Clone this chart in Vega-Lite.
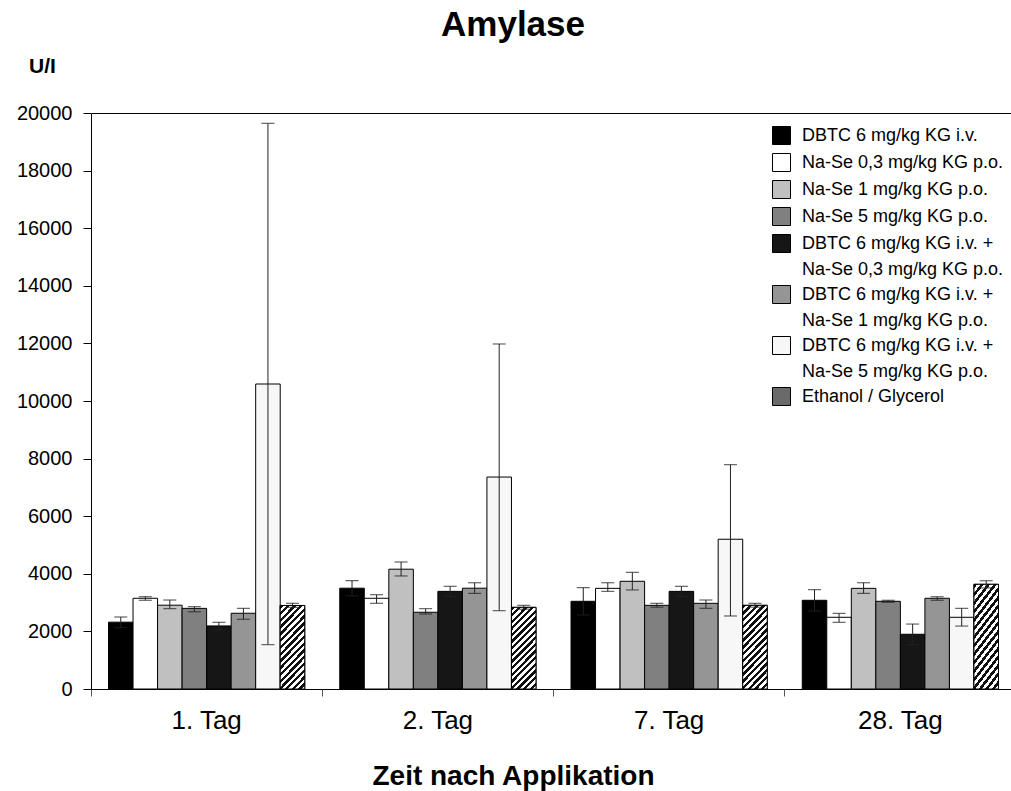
{
  "$schema": "https://vega.github.io/schema/vega-lite/v6.json",
  "width": 920,
  "height": 576,
  "autosize": {"type": "none"},
  "padding": {"left": 91, "top": 113, "right": 0, "bottom": 102},
  "background": "white",
  "config": {"font": "Liberation Sans", "view": {"stroke": null}},
  "title": {"text": "Amylase", "font": "Liberation Sans", "fontSize": 35, "fontWeight": "bold", "color": "black", "anchor": "middle", "frame": "group", "dx": -38, "offset": -16, "baseline": "alphabetic"},
  "data": {"values": [
    {"tag": "1. Tag", "g": "DBTC 6 mg/kg KG i.v.", "mean": 2320, "lo": 2130, "hi": 2500},
    {"tag": "1. Tag", "g": "Na-Se 0,3 mg/kg KG p.o.", "mean": 3150, "lo": 3080, "hi": 3205},
    {"tag": "1. Tag", "g": "Na-Se 1 mg/kg KG p.o.", "mean": 2910, "lo": 2790, "hi": 3090},
    {"tag": "1. Tag", "g": "Na-Se 5 mg/kg KG p.o.", "mean": 2800, "lo": 2680, "hi": 2860},
    {"tag": "1. Tag", "g": "DBTC 6 mg/kg KG i.v. +|Na-Se 0,3 mg/kg KG p.o.", "mean": 2190, "lo": 2060, "hi": 2315},
    {"tag": "1. Tag", "g": "DBTC 6 mg/kg KG i.v. +|Na-Se 1 mg/kg KG p.o.", "mean": 2630, "lo": 2420, "hi": 2800},
    {"tag": "1. Tag", "g": "DBTC 6 mg/kg KG i.v. +|Na-Se 5 mg/kg KG p.o.", "mean": 10590, "lo": 1540, "hi": 19640},
    {"tag": "1. Tag", "g": "Ethanol / Glycerol", "mean": 2900, "lo": 2835, "hi": 2975},
    {"tag": "2. Tag", "g": "DBTC 6 mg/kg KG i.v.", "mean": 3500, "lo": 3235, "hi": 3760},
    {"tag": "2. Tag", "g": "Na-Se 0,3 mg/kg KG p.o.", "mean": 3150, "lo": 2975, "hi": 3275},
    {"tag": "2. Tag", "g": "Na-Se 1 mg/kg KG p.o.", "mean": 4160, "lo": 3925, "hi": 4410},
    {"tag": "2. Tag", "g": "Na-Se 5 mg/kg KG p.o.", "mean": 2665, "lo": 2605, "hi": 2790},
    {"tag": "2. Tag", "g": "DBTC 6 mg/kg KG i.v. +|Na-Se 0,3 mg/kg KG p.o.", "mean": 3390, "lo": 3215, "hi": 3565},
    {"tag": "2. Tag", "g": "DBTC 6 mg/kg KG i.v. +|Na-Se 1 mg/kg KG p.o.", "mean": 3500, "lo": 3320, "hi": 3690},
    {"tag": "2. Tag", "g": "DBTC 6 mg/kg KG i.v. +|Na-Se 5 mg/kg KG p.o.", "mean": 7360, "lo": 2720, "hi": 11980},
    {"tag": "2. Tag", "g": "Ethanol / Glycerol", "mean": 2835, "lo": 2770, "hi": 2905},
    {"tag": "7. Tag", "g": "DBTC 6 mg/kg KG i.v.", "mean": 3045, "lo": 2570, "hi": 3520},
    {"tag": "7. Tag", "g": "Na-Se 0,3 mg/kg KG p.o.", "mean": 3495, "lo": 3390, "hi": 3690},
    {"tag": "7. Tag", "g": "Na-Se 1 mg/kg KG p.o.", "mean": 3740, "lo": 3440, "hi": 4050},
    {"tag": "7. Tag", "g": "Na-Se 5 mg/kg KG p.o.", "mean": 2905, "lo": 2840, "hi": 2975},
    {"tag": "7. Tag", "g": "DBTC 6 mg/kg KG i.v. +|Na-Se 0,3 mg/kg KG p.o.", "mean": 3390, "lo": 3215, "hi": 3565},
    {"tag": "7. Tag", "g": "DBTC 6 mg/kg KG i.v. +|Na-Se 1 mg/kg KG p.o.", "mean": 2975, "lo": 2800, "hi": 3090},
    {"tag": "7. Tag", "g": "DBTC 6 mg/kg KG i.v. +|Na-Se 5 mg/kg KG p.o.", "mean": 5200, "lo": 2535, "hi": 7790},
    {"tag": "7. Tag", "g": "Ethanol / Glycerol", "mean": 2905, "lo": 2840, "hi": 2975},
    {"tag": "28. Tag", "g": "DBTC 6 mg/kg KG i.v.", "mean": 3080, "lo": 2710, "hi": 3450},
    {"tag": "28. Tag", "g": "Na-Se 0,3 mg/kg KG p.o.", "mean": 2490, "lo": 2315, "hi": 2625},
    {"tag": "28. Tag", "g": "Na-Se 1 mg/kg KG p.o.", "mean": 3495, "lo": 3320, "hi": 3690},
    {"tag": "28. Tag", "g": "Na-Se 5 mg/kg KG p.o.", "mean": 3045, "lo": 3010, "hi": 3080},
    {"tag": "28. Tag", "g": "DBTC 6 mg/kg KG i.v. +|Na-Se 0,3 mg/kg KG p.o.", "mean": 1900, "lo": 1540, "hi": 2255},
    {"tag": "28. Tag", "g": "DBTC 6 mg/kg KG i.v. +|Na-Se 1 mg/kg KG p.o.", "mean": 3150, "lo": 3080, "hi": 3205},
    {"tag": "28. Tag", "g": "DBTC 6 mg/kg KG i.v. +|Na-Se 5 mg/kg KG p.o.", "mean": 2490, "lo": 2185, "hi": 2800},
    {"tag": "28. Tag", "g": "Ethanol / Glycerol", "mean": 3635, "lo": 3510, "hi": 3760}
  ]},
  "layer": [
    {
      "mark": {"type": "bar", "stroke": "black", "strokeWidth": 1},
      "encoding": {
        "x": {"field": "tag", "type": "nominal",
          "scale": {"domain": ["1. Tag", "2. Tag", "7. Tag", "28. Tag"], "range": [0, 925], "paddingInner": 0, "paddingOuter": 0},
          "axis": {"orient": "bottom", "title": "Zeit nach Applikation", "titleFontSize": 28, "titleFontWeight": "bold", "titleColor": "black", "titleX": 422, "titleY": 95, "titleAlign": "center", "titleBaseline": "alphabetic", "labelFontSize": 26, "labelColor": "black", "labelAngle": 0, "labelPadding": 39, "labelBaseline": "alphabetic", "ticks": false, "tickSize": 0, "domainColor": "black", "domainWidth": 1, "grid": false}},
        "xOffset": {"field": "g", "type": "nominal",
          "scale": {"domain": ["DBTC 6 mg/kg KG i.v.", "Na-Se 0,3 mg/kg KG p.o.", "Na-Se 1 mg/kg KG p.o.", "Na-Se 5 mg/kg KG p.o.", "DBTC 6 mg/kg KG i.v. +|Na-Se 0,3 mg/kg KG p.o.", "DBTC 6 mg/kg KG i.v. +|Na-Se 1 mg/kg KG p.o.", "DBTC 6 mg/kg KG i.v. +|Na-Se 5 mg/kg KG p.o.", "Ethanol / Glycerol"], "paddingInner": 0, "paddingOuter": 0.714}},
        "y": {"field": "mean", "type": "quantitative",
          "scale": {"domain": [0, 20000], "nice": false},
          "axis": {"title": "U/I", "titleAngle": 0, "titleX": -49, "titleY": -41, "titleAlign": "center", "titleBaseline": "alphabetic", "titleFontSize": 21, "titleFontWeight": "bold", "titleColor": "black", "values": [0, 2000, 4000, 6000, 8000, 10000, 12000, 14000, 16000, 18000, 20000], "format": "d", "labelFontSize": 20, "labelColor": "black", "labelPadding": 11, "tickSize": 8, "tickColor": "black", "domainColor": "black", "grid": false}},
        "fill": {"field": "g", "type": "nominal",
          "scale": {"domain": ["DBTC 6 mg/kg KG i.v.", "Na-Se 0,3 mg/kg KG p.o.", "Na-Se 1 mg/kg KG p.o.", "Na-Se 5 mg/kg KG p.o.", "DBTC 6 mg/kg KG i.v. +|Na-Se 0,3 mg/kg KG p.o.", "DBTC 6 mg/kg KG i.v. +|Na-Se 1 mg/kg KG p.o.", "DBTC 6 mg/kg KG i.v. +|Na-Se 5 mg/kg KG p.o.", "Ethanol / Glycerol"],
            "range": ["#000000", "#ffffff", "#c0c0c0", "#808080", "#161616", "#959595", "#f7f7f7", "#6a6a6a"]},
          "legend": {"orient": "none", "legendX": 681, "legendY": 13, "title": null, "padding": 0, "symbolType": "square", "symbolSize": 324, "symbolStrokeColor": "black", "symbolStrokeWidth": 1, "labelFontSize": 18, "labelColor": "black", "labelOffset": 11, "labelLimit": 0, "labelExpr": "split(datum.label, '|')", "rowPadding": 4, "labelBaseline": "top",
            "encode": {
              "labels": {"update": {"dy": {"value": -9}, "lineHeight": {"value": 26}}},
              "symbols": {"update": {"stroke": {"value": "black"}, "strokeWidth": {"value": 1}}}
            }}}
      }
    },
    {
      "transform": [{"filter": "datum.g === 'Ethanol / Glycerol'"}],
      "mark": {"type": "bar", "stroke": "black", "strokeWidth": 1, "fill": {"gradient": "linear", "x1": 0, "y1": 0, "x2": 0.36, "y2": 1.19, "stops": [
        {"offset": 0, "color": "#111111"}, {"offset": 0.03125, "color": "#111111"}, {"offset": 0.03125, "color": "#ffffff"}, {"offset": 0.0625, "color": "#ffffff"},
        {"offset": 0.0625, "color": "#111111"}, {"offset": 0.09375, "color": "#111111"}, {"offset": 0.09375, "color": "#ffffff"}, {"offset": 0.125, "color": "#ffffff"},
        {"offset": 0.125, "color": "#111111"}, {"offset": 0.15625, "color": "#111111"}, {"offset": 0.15625, "color": "#ffffff"}, {"offset": 0.1875, "color": "#ffffff"},
        {"offset": 0.1875, "color": "#111111"}, {"offset": 0.21875, "color": "#111111"}, {"offset": 0.21875, "color": "#ffffff"}, {"offset": 0.25, "color": "#ffffff"},
        {"offset": 0.25, "color": "#111111"}, {"offset": 0.28125, "color": "#111111"}, {"offset": 0.28125, "color": "#ffffff"}, {"offset": 0.3125, "color": "#ffffff"},
        {"offset": 0.3125, "color": "#111111"}, {"offset": 0.34375, "color": "#111111"}, {"offset": 0.34375, "color": "#ffffff"}, {"offset": 0.375, "color": "#ffffff"},
        {"offset": 0.375, "color": "#111111"}, {"offset": 0.40625, "color": "#111111"}, {"offset": 0.40625, "color": "#ffffff"}, {"offset": 0.4375, "color": "#ffffff"},
        {"offset": 0.4375, "color": "#111111"}, {"offset": 0.46875, "color": "#111111"}, {"offset": 0.46875, "color": "#ffffff"}, {"offset": 0.5, "color": "#ffffff"},
        {"offset": 0.5, "color": "#111111"}, {"offset": 0.53125, "color": "#111111"}, {"offset": 0.53125, "color": "#ffffff"}, {"offset": 0.5625, "color": "#ffffff"},
        {"offset": 0.5625, "color": "#111111"}, {"offset": 0.59375, "color": "#111111"}, {"offset": 0.59375, "color": "#ffffff"}, {"offset": 0.625, "color": "#ffffff"},
        {"offset": 0.625, "color": "#111111"}, {"offset": 0.65625, "color": "#111111"}, {"offset": 0.65625, "color": "#ffffff"}, {"offset": 0.6875, "color": "#ffffff"},
        {"offset": 0.6875, "color": "#111111"}, {"offset": 0.71875, "color": "#111111"}, {"offset": 0.71875, "color": "#ffffff"}, {"offset": 0.75, "color": "#ffffff"},
        {"offset": 0.75, "color": "#111111"}, {"offset": 0.78125, "color": "#111111"}, {"offset": 0.78125, "color": "#ffffff"}, {"offset": 0.8125, "color": "#ffffff"},
        {"offset": 0.8125, "color": "#111111"}, {"offset": 0.84375, "color": "#111111"}, {"offset": 0.84375, "color": "#ffffff"}, {"offset": 0.875, "color": "#ffffff"},
        {"offset": 0.875, "color": "#111111"}, {"offset": 0.90625, "color": "#111111"}, {"offset": 0.90625, "color": "#ffffff"}, {"offset": 0.9375, "color": "#ffffff"},
        {"offset": 0.9375, "color": "#111111"}, {"offset": 0.96875, "color": "#111111"}, {"offset": 0.96875, "color": "#ffffff"}, {"offset": 1, "color": "#ffffff"}]}},
      "encoding": {
        "x": {"field": "tag", "type": "nominal", "axis": null},
        "xOffset": {"field": "g", "type": "nominal"},
        "y": {"field": "mean", "type": "quantitative"}
      }
    },
    {
      "mark": {"type": "rule", "color": "#222222", "strokeWidth": 1},
      "encoding": {
        "x": {"field": "tag", "type": "nominal", "axis": {"orient": "bottom", "bandPosition": 0, "labels": false, "domain": false, "ticks": true, "tickSize": 7, "tickColor": "#555555", "title": null, "grid": false}},
        "xOffset": {"field": "g", "type": "nominal"},
        "y": {"field": "lo", "type": "quantitative"},
        "y2": {"field": "hi"}
      }
    },
    {
      "mark": {"type": "tick", "color": "#222222", "size": 13, "thickness": 1.2},
      "encoding": {
        "x": {"field": "tag", "type": "nominal", "axis": {"orient": "top", "labels": false, "ticks": false, "domain": true, "domainColor": "black", "title": null, "grid": false}},
        "xOffset": {"field": "g", "type": "nominal"},
        "y": {"field": "lo", "type": "quantitative"}
      }
    },
    {
      "mark": {"type": "tick", "color": "#222222", "size": 13, "thickness": 1.2},
      "encoding": {
        "x": {"field": "tag", "type": "nominal", "axis": null},
        "xOffset": {"field": "g", "type": "nominal"},
        "y": {"field": "hi", "type": "quantitative"}
      }
    }
  ],
  "resolve": {"axis": {"x": "independent"}}
}
